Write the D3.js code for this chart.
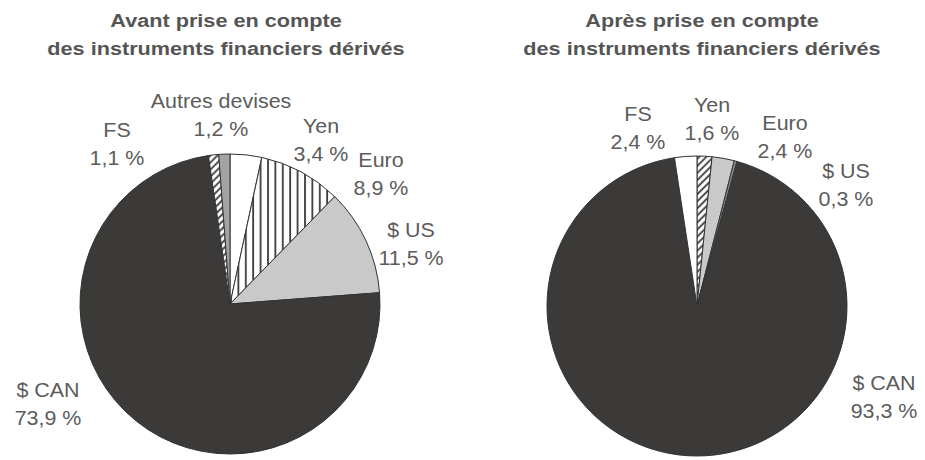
<!DOCTYPE html>
<html lang="fr">
<head>
<meta charset="utf-8">
<script src="https://cdn.jsdelivr.net/npm/d3@7"></script>
<style>
  html, body { margin: 0; padding: 0; background: #ffffff; }
  svg { display: block; }
</style>
</head>
<body>
<svg id="chart" width="925" height="460"></svg>
<script>
// Répartition par devise, en % — avant et après instruments dérivés
const avantCurrencies = ["Yen", "Euro", "$ US", "$ CAN", "FS", "Autres devises"];
const avantValues     = [3.4, 8.9, 11.5, 73.9, 1.1, 1.2];

const apresCurrencies = ["Yen", "Euro", "$ US", "$ CAN", "FS"];
const apresValues     = [1.6, 2.4, 0.3, 93.3, 2.4];

const titles = [
  ["Avant prise en compte", "des instruments financiers dérivés"],
  ["Après prise en compte", "des instruments financiers dérivés"]
];

// Layout: label anchors relative to each pie centre (first line baseline)
const avantLabelOffsets = [[91, -171], [151, -137], [181, -67], [-182, 93], [-113, -167], [-9, -196]];
const apresLabelOffsets = [[15, -194], [88, -176], [149, -128], [187, 84], [-59, -185]];

// Fill for each slice
const avantFills = ["#ffffff", "url(#vstripes)", "#c9c9c9", "#3b3a39", "url(#hatch)", "#a3a3a3"];
const apresFills = ["url(#hatch)", "#c9c9c9", "#8a8a8a", "#3b3a39", "#ffffff"];

const svg = d3.select("#chart");
const defs = svg.append("defs");

// Vertical stripe pattern
const vs = defs.append("pattern")
  .attr("id", "vstripes").attr("patternUnits", "userSpaceOnUse")
  .attr("width", 7.4).attr("height", 10);
vs.append("rect").attr("width", 7.4).attr("height", 10).attr("fill", "#ffffff");
vs.append("line").attr("x1", 1).attr("x2", 1).attr("y1", 0).attr("y2", 10)
  .attr("stroke", "#3a3a3a").attr("stroke-width", 1.8);

// Diagonal hatch pattern
const ht = defs.append("pattern")
  .attr("id", "hatch").attr("patternUnits", "userSpaceOnUse")
  .attr("width", 5).attr("height", 5)
  .attr("patternTransform", "rotate(-45)");
ht.append("rect").attr("width", 5).attr("height", 5).attr("fill", "#ffffff");
ht.append("line").attr("x1", 0).attr("x2", 5).attr("y1", 1.2).attr("y2", 1.2)
  .attr("stroke", "#3a3a3a").attr("stroke-width", 1.8);

const textColor = "#5c5c5c";
const fmt = v => v.toFixed(1).replace(".", ",") + " %";

function drawPie(cx, cy, r, names, values, fills, offsets, titleLines, titleCx) {
  const g = svg.append("g");

  // Title
  titleLines.forEach((t, i) => {
    g.append("text")
      .attr("transform", `translate(${titleCx},${27 + i * 28}) scale(1.14,1)`)
      .attr("text-anchor", "middle")
      .attr("font-family", "Liberation Sans, Arial, sans-serif")
      .attr("font-weight", "bold")
      .attr("font-size", 19)
      .attr("fill", "#555555")
      .text(t);
  });

  const pie = d3.pie().sort(null).value(d => d.value);
  const arc = d3.arc().innerRadius(0).outerRadius(r);
  const data = names.map((n, i) => ({ name: n, value: values[i], fill: fills[i], off: offsets[i] }));
  const arcs = pie(data);

  const pg = g.append("g").attr("transform", `translate(${cx},${cy})`);
  pg.selectAll("path")
    .data(arcs)
    .join("path")
    .attr("d", arc)
    .attr("fill", d => d.data.fill)
    .attr("stroke", "#333333")
    .attr("stroke-width", 1)
    .attr("stroke-linejoin", "round");

  // Labels: name then percentage
  const lg = g.append("g").attr("transform", `translate(${cx},${cy})`);
  arcs.forEach(d => {
    const [dx, dy] = d.data.off;
    [d.data.name, fmt(d.data.value)].forEach((t, i) => {
      lg.append("text")
        .attr("transform", `translate(${dx},${dy + i * 28}) scale(1.1,1)`)
        .attr("text-anchor", "middle")
        .attr("font-family", "Liberation Sans, Arial, sans-serif")
        .attr("font-size", 19.5)
        .attr("fill", textColor)
        .text(t);
    });
  });
}

drawPie(230, 304, 150, avantCurrencies, avantValues, avantFills, avantLabelOffsets, titles[0], 226);
drawPie(697, 306, 150, apresCurrencies, apresValues, apresFills, apresLabelOffsets, titles[1], 702);
</script>
</body>
</html>
